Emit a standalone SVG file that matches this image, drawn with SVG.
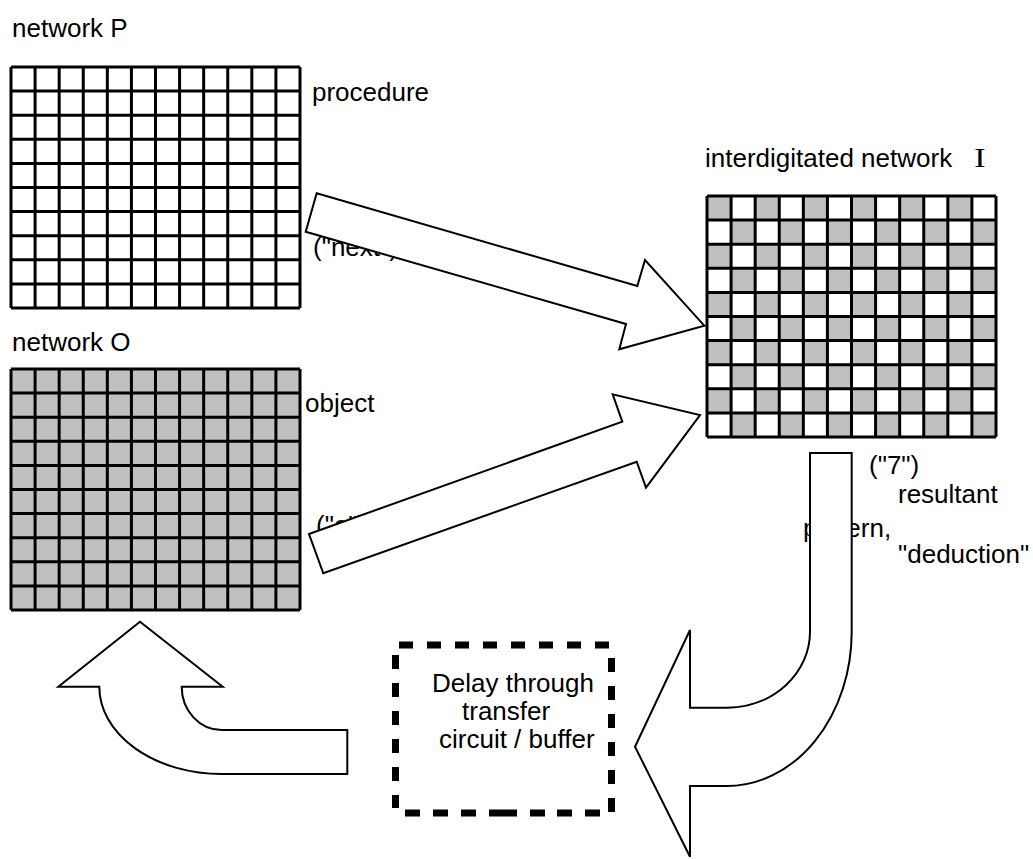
<svg xmlns="http://www.w3.org/2000/svg" xmlns:xlink="http://www.w3.org/1999/xlink" width="1033" height="859" viewBox="0 0 1033 859">
  <style>
    .label { font-family: "Liberation Sans", Arial, sans-serif; font-size: 26px; fill: #000; }
    .serif { font-family: "Liberation Serif", "Times New Roman", serif; font-size: 27px; fill: #000; }
    .gridline { fill: none; stroke: #000; stroke-width: 3; }
    .block { fill: #fff; stroke: #000; stroke-width: 2; stroke-linejoin: miter; }
    .dash { fill: none; stroke: #000; stroke-width: 7; stroke-linecap: butt; }
  </style>
  <defs>
    <!-- 12 x 10 cell lattice, 289 x 241 -->
    <path id="lattice" class="gridline" d="
      M0,0 V241 M24.083,0 V241 M48.167,0 V241 M72.25,0 V241 M96.333,0 V241 M120.417,0 V241
      M144.5,0 V241 M168.583,0 V241 M192.667,0 V241 M216.75,0 V241 M240.833,0 V241 M264.917,0 V241 M289,0 V241
      M0,0 H289 M0,24.1 H289 M0,48.2 H289 M0,72.3 H289 M0,96.4 H289 M0,120.5 H289
      M0,144.6 H289 M0,168.7 H289 M0,192.8 H289 M0,216.9 H289 M0,241 H289"/>
    <pattern id="checker" patternUnits="userSpaceOnUse" width="48.167" height="48.2">
      <rect x="0" y="0" width="24.083" height="24.1" fill="#c0c0c0"/>
      <rect x="24.083" y="24.1" width="24.083" height="24.1" fill="#c0c0c0"/>
    </pattern>
  </defs>

  <rect width="1033" height="859" fill="#fff"/>

  <!-- network P : procedure -->
  <g id="network-p">
    <text class="label" x="12" y="37">network P</text>
    <g transform="translate(11,67)">
      <rect width="289" height="241" fill="#fff"/>
      <use xlink:href="#lattice" href="#lattice"/>
    </g>
    <text class="label" x="312" y="101">procedure</text>
  </g>

  <!-- network O : object -->
  <g id="network-o">
    <text class="label" x="12" y="351">network O</text>
    <g transform="translate(11,369)">
      <rect width="289" height="241" fill="#c0c0c0"/>
      <use xlink:href="#lattice" href="#lattice"/>
    </g>
    <text class="label" x="305" y="412">object</text>
  </g>

  <!-- interdigitated network I -->
  <g id="network-i">
    <text class="label" x="705" y="167">interdigitated network</text>
    <text class="serif" transform="translate(980,167) scale(1.25,1)" text-anchor="middle">I</text>
    <g transform="translate(707,196)">
      <rect width="289" height="241" fill="#fff"/>
      <rect width="289" height="241" fill="url(#checker)"/>
      <use xlink:href="#lattice" href="#lattice"/>
    </g>
  </g>

  <!-- delay element -->
  <g id="delay-buffer">
    <path class="dash" d="M399,645 H609" stroke-dasharray="14 14"/>
    <path class="dash" d="M611.5,658 V812" stroke-dasharray="14 14"/>
    <path class="dash" d="M395.5,655 V808" stroke-dasharray="14 14"/>
    <path class="dash" d="M405,813 H600" stroke-dasharray="15 13 15 13 15 13 28 13 15 12 15 13 15 100"/>
    <text class="label" x="432" y="692">Delay through</text>
    <text class="label" x="462" y="720">transfer</text>
    <text class="label" x="439" y="748">circuit / buffer</text>
  </g>

  <!-- block arrows, drawn over their labels -->
  <g id="connectors">
    <text class="label" x="313" y="256">("next")</text>
    <polygon class="block" points="316.7,193.3 637.3,286 645,260 704.3,325.7 619.3,349.3 626,324 305.7,231.7"/>

    <text class="label" x="316" y="534">("e")</text>
    <polygon class="block" points="309,534 622.3,421.7 612.7,394.3 700,415 646,487.7 636.7,461.7 323.3,573.3"/>

    <text class="label" x="869" y="474">("7")</text>
    <text class="label" x="898" y="503">resultant</text>
    <text class="label" x="803" y="537">pattern,</text>
    <text class="label" x="898" y="563">"deduction"</text>
    <path class="block" d="M810,453 H851.7 V631.7 A125,154.3 0 0 1 726.7,786 H690 V856.7 L635,746.7 L690,630 V707.7 H726.7 A83.3,76 0 0 0 810,631.7 Z"/>

    <path class="block" d="M140,621.7 L222.7,686.7 H181.7 A40,43.3 0 0 0 221.7,730 H347.3 V774 H221.7 A122.4,87.3 0 0 1 99.3,686.7 H58.3 Z"/>
  </g>
</svg>
